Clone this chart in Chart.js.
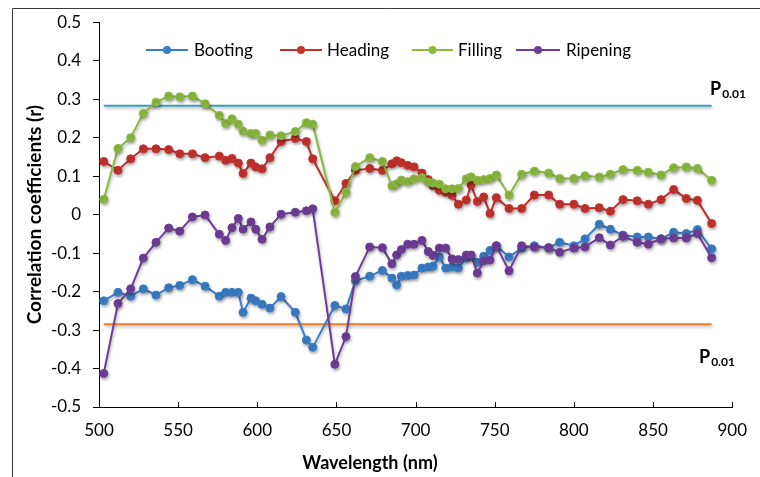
<!DOCTYPE html>
<html>
<head>
<meta charset="utf-8">
<script src="https://cdn.jsdelivr.net/npm/chart.js@4.4.1/dist/chart.umd.min.js"></script>
<style>
  html, body { margin: 0; padding: 0; background: #fff; }
  #wrap { width: 760px; height: 477px; position: relative; }
</style>
</head>
<body>
<div id="wrap"><canvas id="c" width="760" height="477"></canvas></div>
<script>
// ---- data ----
const wavelengths = [503,512,520,528,536,544,551,559,567,576,580,584,588,591,596,599,603,608,615,624,631,635,649,656,662,671,679,685,688,691,695,699,704,708,711,715,719,723,727,732,735,739,743,747,751,759,767,775,784,791,800,807,816,823,831,840,847,855,863,871,878,887];

const booting = [-0.224,-0.202,-0.212,-0.193,-0.209,-0.190,-0.184,-0.169,-0.186,-0.212,-0.202,-0.202,-0.202,-0.254,-0.217,-0.224,-0.233,-0.243,-0.213,-0.254,-0.326,-0.345,-0.236,-0.245,-0.172,-0.160,-0.145,-0.165,-0.183,-0.160,-0.158,-0.157,-0.139,-0.136,-0.134,-0.110,-0.139,-0.136,-0.139,-0.113,-0.106,-0.124,-0.108,-0.093,-0.081,-0.110,-0.087,-0.081,-0.086,-0.072,-0.081,-0.063,-0.025,-0.038,-0.053,-0.058,-0.058,-0.063,-0.046,-0.049,-0.039,-0.089];

const heading = [0.138,0.115,0.145,0.171,0.171,0.169,0.158,0.158,0.148,0.152,0.141,0.146,0.134,0.107,0.134,0.124,0.119,0.148,0.190,0.198,0.190,0.145,0.036,0.081,0.115,0.120,0.115,0.132,0.140,0.135,0.128,0.124,0.108,0.091,0.075,0.063,0.058,0.050,0.027,0.038,0.077,0.034,0.046,0.003,0.044,0.016,0.016,0.051,0.051,0.027,0.027,0.016,0.018,0.009,0.039,0.036,0.027,0.039,0.065,0.042,0.037,-0.023];

const filling = [0.040,0.172,0.200,0.263,0.292,0.308,0.306,0.308,0.288,0.258,0.237,0.249,0.235,0.217,0.211,0.211,0.193,0.207,0.205,0.216,0.239,0.235,0.006,0.058,0.125,0.148,0.138,0.075,0.080,0.090,0.086,0.093,0.096,0.084,0.082,0.079,0.067,0.067,0.068,0.093,0.098,0.089,0.091,0.094,0.103,0.051,0.105,0.113,0.108,0.094,0.094,0.101,0.098,0.105,0.117,0.115,0.110,0.103,0.122,0.124,0.120,0.089];

const ripening = [-0.413,-0.231,-0.193,-0.113,-0.072,-0.035,-0.043,-0.006,-0.001,-0.051,-0.067,-0.034,-0.010,-0.038,-0.019,-0.038,-0.064,-0.032,0.001,0.006,0.010,0.015,-0.389,-0.317,-0.161,-0.084,-0.086,-0.128,-0.105,-0.091,-0.077,-0.077,-0.067,-0.096,-0.106,-0.087,-0.087,-0.115,-0.117,-0.105,-0.105,-0.152,-0.120,-0.118,-0.081,-0.146,-0.081,-0.084,-0.086,-0.098,-0.087,-0.084,-0.060,-0.079,-0.056,-0.072,-0.077,-0.063,-0.061,-0.061,-0.049,-0.112];

const seriesNames = ["Booting","Heading","Filling","Ripening"];
const thresholdRange = [503, 887];
const thresholdUpper = 0.283;
const thresholdLower = -0.285;
const thresholdLabel = "P";
const thresholdSub = "0.01";
const xTicks = [500,550,600,650,700,750,800,850,900];
const yTicks = [-0.5,-0.4,-0.3,-0.2,-0.1,0,0.1,0.2,0.3,0.4,0.5];
const xTitle = "Wavelength (nm)";
const yTitle = "Correlation coefficients (r)";

// ---- build ----
const colors = ["#3B7DC6","#C4322E","#8CBA3F","#6E3E98"];
const seriesVals = [booting, heading, filling, ripening];
const pts = v => wavelengths.map((w, i) => ({x: w, y: v[i]}));

const datasets = seriesVals.map((v, i) => ({
  label: seriesNames[i],
  data: pts(v),
  borderColor: colors[i],
  backgroundColor: colors[i],
  borderWidth: 2,
  pointRadius: 4,
  pointBorderWidth: 1,
  pointBorderColor: colors[i],
  pointBackgroundColor: colors[i],
  tension: 0,
  order: 4 - i
}));
datasets.push({
  label: "upper", isThreshold: true,
  data: thresholdRange.map(x => ({x, y: thresholdUpper})),
  borderColor: "#3A9DB6", borderWidth: 2, pointRadius: 0, order: 10
});
datasets.push({
  label: "lower", isThreshold: true,
  data: thresholdRange.map(x => ({x, y: thresholdLower})),
  borderColor: "#F07F2C", borderWidth: 2, pointRadius: 0, order: 10
});

const FONT = "Lato, 'Open Sans', sans-serif";

const framePlugin = {
  id: "frame",
  beforeDraw(chart) {
    const ctx = chart.ctx;
    ctx.save();
    ctx.fillStyle = "#fff";
    ctx.fillRect(0, 0, chart.width, chart.height);
    ctx.strokeStyle = "#3a3a3a";
    ctx.lineWidth = 1;
    ctx.beginPath();
    ctx.moveTo(12.5, 477);
    ctx.lineTo(12.5, 8.5);
    ctx.lineTo(760, 8.5);
    ctx.stroke();
    ctx.restore();
  },
  beforeDatasetsDraw(chart) {
    const ctx = chart.ctx;
    ctx.save();
    ctx.shadowColor = "rgba(0,0,0,0.28)";
    ctx.shadowBlur = 3;
    ctx.shadowOffsetX = 1;
    ctx.shadowOffsetY = 2;
  },
  afterDatasetsDraw(chart) {
    chart.ctx.restore();
  },
  afterDraw(chart) {
    const ctx = chart.ctx;
    const xs = chart.scales.x;
    const bottom = chart.chartArea.bottom;
    ctx.save();
    // x ticks pointing up
    ctx.strokeStyle = "#000";
    ctx.lineWidth = 1;
    xTicks.forEach(v => {
      const px = Math.round(xs.getPixelForValue(v)) + 0.5;
      ctx.beginPath();
      ctx.moveTo(px, bottom);
      ctx.lineTo(px, bottom - 5);
      ctx.stroke();
    });
    // x title
    ctx.fillStyle = "#000";
    ctx.font = "bold 18px " + FONT;
    ctx.textAlign = "center";
    ctx.textBaseline = "middle";
    ctx.fillText(xTitle, 370, 463);
    // legend
    const legendY = 50;
    const pos = [[146,188,194],[280,322,327],[412,453,458],[516,560,566]];
    ctx.font = "17px " + FONT;
    ctx.textBaseline = "middle";
    ctx.textAlign = "left";
    chart.data.datasets.forEach((ds, i) => {
      if (ds.isThreshold) return;
      const p = pos[i];
      ctx.strokeStyle = ds.borderColor;
      ctx.lineWidth = 2;
      ctx.beginPath();
      ctx.moveTo(p[0], legendY);
      ctx.lineTo(p[1], legendY);
      ctx.stroke();
      ctx.fillStyle = ds.borderColor;
      ctx.beginPath();
      ctx.arc((p[0] + p[1]) / 2, legendY, 4, 0, Math.PI * 2);
      ctx.fill();
      ctx.fillStyle = "#000";
      ctx.fillText(ds.label, p[2], legendY + 1);
    });
    // P0.01 labels
    const drawP = (x, yBase) => {
      ctx.fillStyle = "#000";
      ctx.textBaseline = "alphabetic";
      ctx.font = "bold 18px " + FONT;
      ctx.fillText(thresholdLabel, x, yBase);
      const w = ctx.measureText(thresholdLabel).width;
      ctx.font = "bold 12px " + FONT;
      ctx.fillText(thresholdSub, x + w + 1, yBase + 3);
    };
    drawP(710, 95);
    drawP(699, 363);
    ctx.restore();
  }
};

new Chart(document.getElementById("c"), {
  type: "line",
  data: { datasets },
  options: {
    responsive: false,
    animation: false,
    devicePixelRatio: 1,
    layout: { padding: { top: 22, right: 26, left: 0, bottom: 0 } },
    plugins: { legend: { display: false }, tooltip: { enabled: false } },
    scales: {
      x: {
        type: "linear",
        min: 500, max: 900,
        afterBuildTicks(scale) { scale.ticks = xTicks.map(v => ({value: v})); },
        afterFit(scale) { scale.height = 70; },
        ticks: { color: "#000", font: { family: FONT, size: 17 }, padding: 13, maxRotation: 0 },
        grid: { display: true, drawOnChartArea: false, drawTicks: false, color: "#000" },
        border: { display: true, color: "#000", width: 1 },
        title: { display: false }
      },
      y: {
        type: "linear",
        min: -0.5, max: 0.5,
        afterBuildTicks(scale) { scale.ticks = yTicks.map(v => ({value: v})); },
        afterFit(scale) { scale.width = 99; },
        ticks: { color: "#000", font: { family: FONT, size: 17 }, padding: 12,
                 callback: v => (Math.round(v * 10) / 10).toString() },
        grid: { display: true, drawOnChartArea: false, drawTicks: true, tickLength: 6, color: "#000" },
        border: { display: true, color: "#000", width: 1 },
        title: { display: true, text: yTitle, color: "#000",
                 font: { family: FONT, size: 19, weight: "bold" }, padding: { top: 23, bottom: 0 } }
      }
    }
  },
  plugins: [framePlugin]
});
</script>
</body>
</html>
